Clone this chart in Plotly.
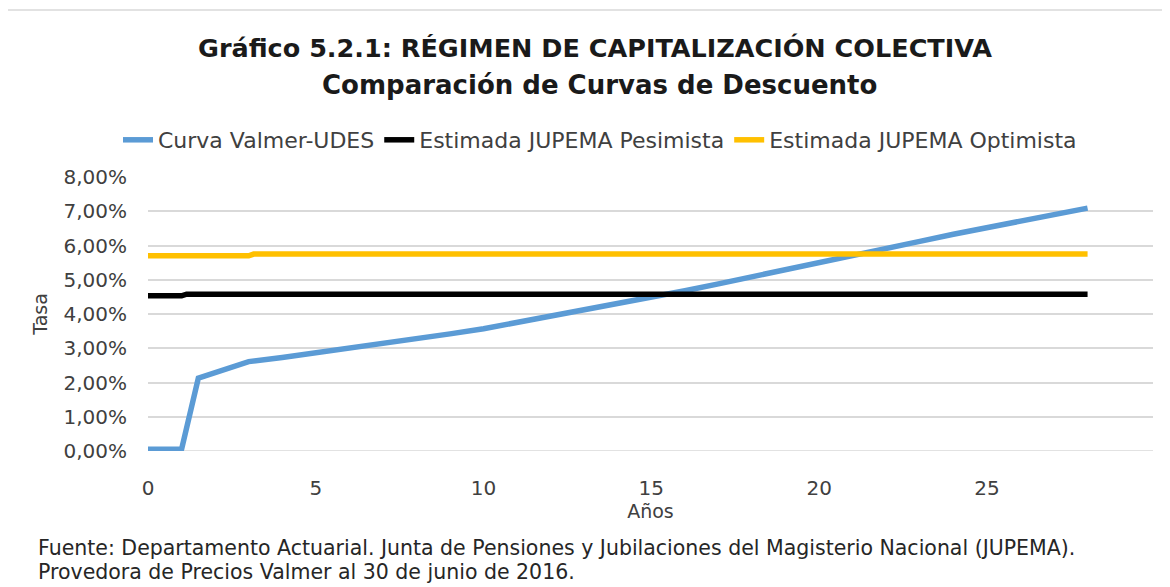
import plotly.graph_objects as go

# ---- data ----
years_valmer = [0, 0.5, 1, 1.5, 2, 2.5, 3, 4, 5, 6, 7, 8, 9, 10, 11, 12, 13, 14, 15,
                16, 17, 18, 19, 20, 21, 22, 23, 24, 25, 26, 27, 28]
rate_valmer = [0.05, 0.05, 0.05, 2.13, 2.30, 2.46, 2.61, 2.73, 2.86, 2.99, 3.13, 3.27,
               3.42, 3.57, 3.75, 3.94, 4.13, 4.32, 4.48, 4.68, 4.88, 5.08, 5.29, 5.50,
               5.71, 5.92, 6.12, 6.33, 6.53, 6.72, 6.91, 7.09]

years_pes = [0, 1, 1.15, 28]
rate_pes = [4.53, 4.53, 4.58, 4.58]

years_opt = [0, 3, 3.15, 28]
rate_opt = [5.70, 5.70, 5.75, 5.75]

x_ticks = [0, 5, 10, 15, 20, 25]
y_ticks = [0, 1, 2, 3, 4, 5, 6, 7, 8]

series_names = ["Curva Valmer-UDES", "Estimada JUPEMA Pesimista", "Estimada JUPEMA Optimista"]

title_line1 = "Gráfico 5.2.1: RÉGIMEN DE CAPITALIZACIÓN COLECTIVA"
title_line2 = "Comparación de Curvas de Descuento"
source_line1 = "Fuente: Departamento Actuarial. Junta de Pensiones y Jubilaciones del Magisterio Nacional (JUPEMA)."
source_line2 = "Provedora de Precios Valmer al 30 de junio de 2016."

FONT = "DejaVu Sans"
TXT = "#404040"

OFF = 8                      # page body margin in the browser
W, H = 1170 - OFF, 587 - OFF
# plot-area geometry in window pixels
L, R, T, B = 148, 1153, 177, 451
PW, PH = R - L, B - T


def px_x(x):
    return (x - L) / PW


def px_y(y):
    return (B - y) / PH


fig = go.Figure()
fig.add_trace(go.Scatter(x=years_valmer, y=[v / 100 for v in rate_valmer], mode="lines",
                         name=series_names[0], line=dict(color="#5B9BD5", width=5.5)))
fig.add_trace(go.Scatter(x=years_pes, y=[v / 100 for v in rate_pes], mode="lines",
                         name=series_names[1], line=dict(color="#000000", width=5.5)))
fig.add_trace(go.Scatter(x=years_opt, y=[v / 100 for v in rate_opt], mode="lines",
                         name=series_names[2], line=dict(color="#FFC000", width=5.5)))

fig.update_layout(
    width=W, height=H,
    margin=dict(l=L - OFF, r=W - (R - OFF), t=T - OFF, b=H - (B - OFF), autoexpand=False),
    paper_bgcolor="white", plot_bgcolor="white",
    separators=",.",
    font=dict(family=FONT, color=TXT, size=19),
    title=dict(text="<b>" + title_line1 + "</b>",
               x=px_x(595), xref="paper", xanchor="center",
               y=1 - (48 - OFF) / H, yanchor="middle",
               font=dict(family=FONT, size=25.5, color="#1a1a1a")),
    legend=dict(orientation="h", x=px_x(600), xanchor="center",
                y=px_y(140), yanchor="middle",
                font=dict(size=22, color=TXT), itemwidth=30, tracegroupgap=0),
    showlegend=True,
)

fig.add_annotation(text="<b>" + title_line2 + "</b>", xref="paper", yref="paper",
                   x=px_x(599), y=px_y(85), xanchor="center", yanchor="middle",
                   showarrow=False, font=dict(family=FONT, size=26, color="#1a1a1a"))

fig.update_xaxes(range=[0, 29.95], tickvals=x_ticks, showgrid=False, zeroline=False,
                 showline=False, ticks="", ticklabelstandoff=23, automargin=False,
                 title=dict(text="Años", standoff=0, font=dict(size=19, color=TXT)),
                 tickfont=dict(size=20, color=TXT))
fig.update_yaxes(range=[0, 0.08], tickvals=[v / 100 for v in y_ticks], tickformat=".2%",
                 showgrid=True, gridcolor="#D9D9D9", gridwidth=1.5, zeroline=False,
                 showline=False, ticks="", ticklabelstandoff=20, automargin=False,
                 title=dict(text="Tasa", standoff=10, font=dict(size=19, color=TXT)),
                 tickfont=dict(size=20, color=TXT))

# baseline of plot area
fig.add_shape(type="line", xref="paper", yref="y", x0=0, x1=1, y0=0, y1=0,
              line=dict(color="#D9D9D9", width=1.5), layer="below")

# outer chart border
fig.add_shape(type="rect", xref="paper", yref="paper",
              x0=px_x(3), x1=px_x(1180), y0=px_y(600), y1=px_y(10),
              line=dict(color="#D9D9D9", width=1.5))

for txt, yc in ((source_line1, 548), (source_line2, 572)):
    fig.add_annotation(text=txt, xref="paper", yref="paper", x=px_x(36), y=px_y(yc),
                       xanchor="left", yanchor="middle", align="left", showarrow=False,
                       font=dict(size=20.5, color="#262626"))

fig.write_html("out.html")
